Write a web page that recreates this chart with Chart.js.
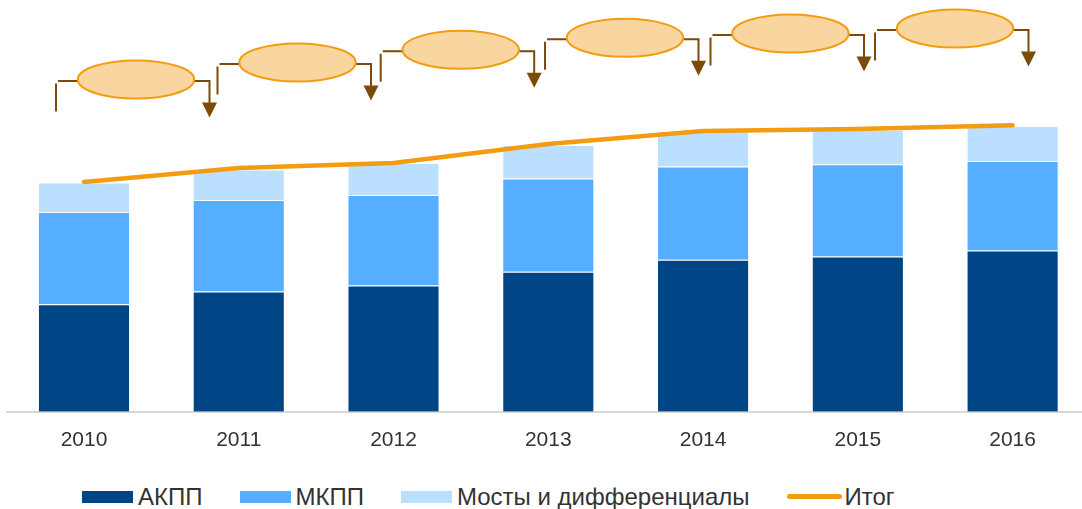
<!DOCTYPE html>
<html>
<head>
<meta charset="utf-8">
<script src="https://cdn.jsdelivr.net/npm/chart.js@4"></script>
<style>
  html, body { margin: 0; padding: 0; overflow: hidden; background: #fff; }
  #wrap { position: absolute; left: 0; top: 0; width: 1082px; height: 509px; overflow: hidden; }
  #chart { position: absolute; left: 0; top: 0; }
  #legend {
    position: absolute; left: 82px; top: 483px;
    display: flex; align-items: center;
    font-family: "Liberation Sans", Arial, sans-serif; font-size: 24px; color: #333;
    line-height: 27px; white-space: nowrap;
  }
  .item { display: flex; align-items: center; margin-right: 37px; }
  .box { width: 51px; height: 12px; margin-right: 5px; }
  .ln { width: 55px; height: 5px; border-radius: 3px; margin-right: 3px; }
</style>
</head>
<body>
<div id="wrap">
  <canvas id="chart" width="1094" height="470"></canvas>
  <div id="legend"></div>
</div>
<script>
// years and values by gearbox type
var years = ['2010', '2011', '2012', '2013', '2014', '2015', '2016'];
var akpp  = [1075, 1203, 1263, 1400, 1520, 1553, 1613];
var mkpp  = [925, 917, 907, 933, 933, 924, 897];
var mosty = [295, 305, 320, 337, 357, 345, 350];
var itog  = [2300, 2440, 2490, 2680, 2810, 2830, 2867];

var names = ['АКПП', 'МКПП', 'Мосты и дифференциалы', 'Итог'];
var colors = ['#004585', '#55AEFF', '#BBDFFE', '#F39C12'];

// empty growth bubbles with elbow arrows above the bars
var bubbles = [[136, 79.5], [297.5, 62.5], [460.7, 49.8], [625, 37.8], [790.5, 33.5], [955, 28.5]];

var bubblePlugin = {
  id: 'bubbles',
  afterDraw: function(chart) {
    var ctx = chart.ctx;
    ctx.save();
    bubbles.forEach(function(b) {
      var cx = b[0], cy = b[1];
      var rx = 58.2, ry = 19;
      var brown = '#7A4C08';
      ctx.strokeStyle = brown;
      ctx.lineWidth = 2;
      // left elbow
      ctx.beginPath();
      ctx.moveTo(cx - 80, cy + 4);
      ctx.lineTo(cx - 80, cy + 32);
      ctx.moveTo(cx - 78, cy + 1.5);
      ctx.lineTo(cx - rx, cy + 1.5);
      ctx.stroke();
      // right elbow down to the arrow
      var ax = cx + 73.5;
      ctx.beginPath();
      ctx.moveTo(cx + rx, cy + 1.5);
      ctx.lineTo(ax, cy + 1.5);
      ctx.lineTo(ax, cy + 24);
      ctx.stroke();
      ctx.fillStyle = brown;
      ctx.beginPath();
      ctx.moveTo(ax - 7.5, cy + 23);
      ctx.lineTo(ax + 7.5, cy + 23);
      ctx.lineTo(ax, cy + 38);
      ctx.closePath();
      ctx.fill();
      // bubble
      ctx.beginPath();
      ctx.ellipse(cx, cy, rx, ry, 0, 0, Math.PI * 2);
      ctx.fillStyle = '#F9D59F';
      ctx.fill();
      ctx.strokeStyle = '#F39C12';
      ctx.lineWidth = 2;
      ctx.stroke();
    });
    ctx.restore();
  }
};

Chart.defaults.font.family = '"Liberation Sans", Arial, sans-serif';

function barSet(i, data) {
  return {
    type: 'bar',
    label: names[i],
    data: data,
    backgroundColor: colors[i],
    borderColor: 'rgba(255,255,255,0.35)',
    borderWidth: 1,
    stack: 'bars',
    order: 2,
    barPercentage: 0.595,
    categoryPercentage: 1
  };
}

var ctx = document.getElementById('chart').getContext('2d');
var chart = new Chart(ctx, {
  data: {
    labels: years,
    datasets: [
      {
        type: 'line',
        label: names[3],
        data: itog,
        borderColor: colors[3],
        backgroundColor: colors[3],
        borderWidth: 4.5,
        borderCapStyle: 'round',
        pointRadius: 0,
        tension: 0,
        fill: false,
        stack: 'total',
        order: 1
      },
      barSet(0, akpp),
      barSet(1, mkpp),
      barSet(2, mosty)
    ]
  },
  options: {
    responsive: false,
    animation: false,
    layout: { padding: { left: 6.6, right: 4, top: 0, bottom: 2 } },
    plugins: { legend: { display: false }, tooltip: { enabled: false } },
    scales: {
      x: {
        stacked: true,
        grid: { display: false, drawTicks: false },
        border: { display: true, color: '#D9D9D9', width: 2 },
        ticks: { color: '#333', font: { size: 21 }, padding: 15.5 }
      },
      y: {
        stacked: true,
        display: false,
        min: 0,
        max: 4120
      }
    }
  },
  plugins: [bubblePlugin]
});

// legend row
var legend = document.getElementById('legend');
names.forEach(function(n, i) {
  var item = document.createElement('div');
  item.className = 'item';
  var mark = document.createElement('div');
  mark.className = i === 3 ? 'ln' : 'box';
  mark.style.background = colors[i];
  var txt = document.createElement('span');
  txt.textContent = n;
  item.appendChild(mark);
  item.appendChild(txt);
  legend.appendChild(item);
});
</script>
</body>
</html>
